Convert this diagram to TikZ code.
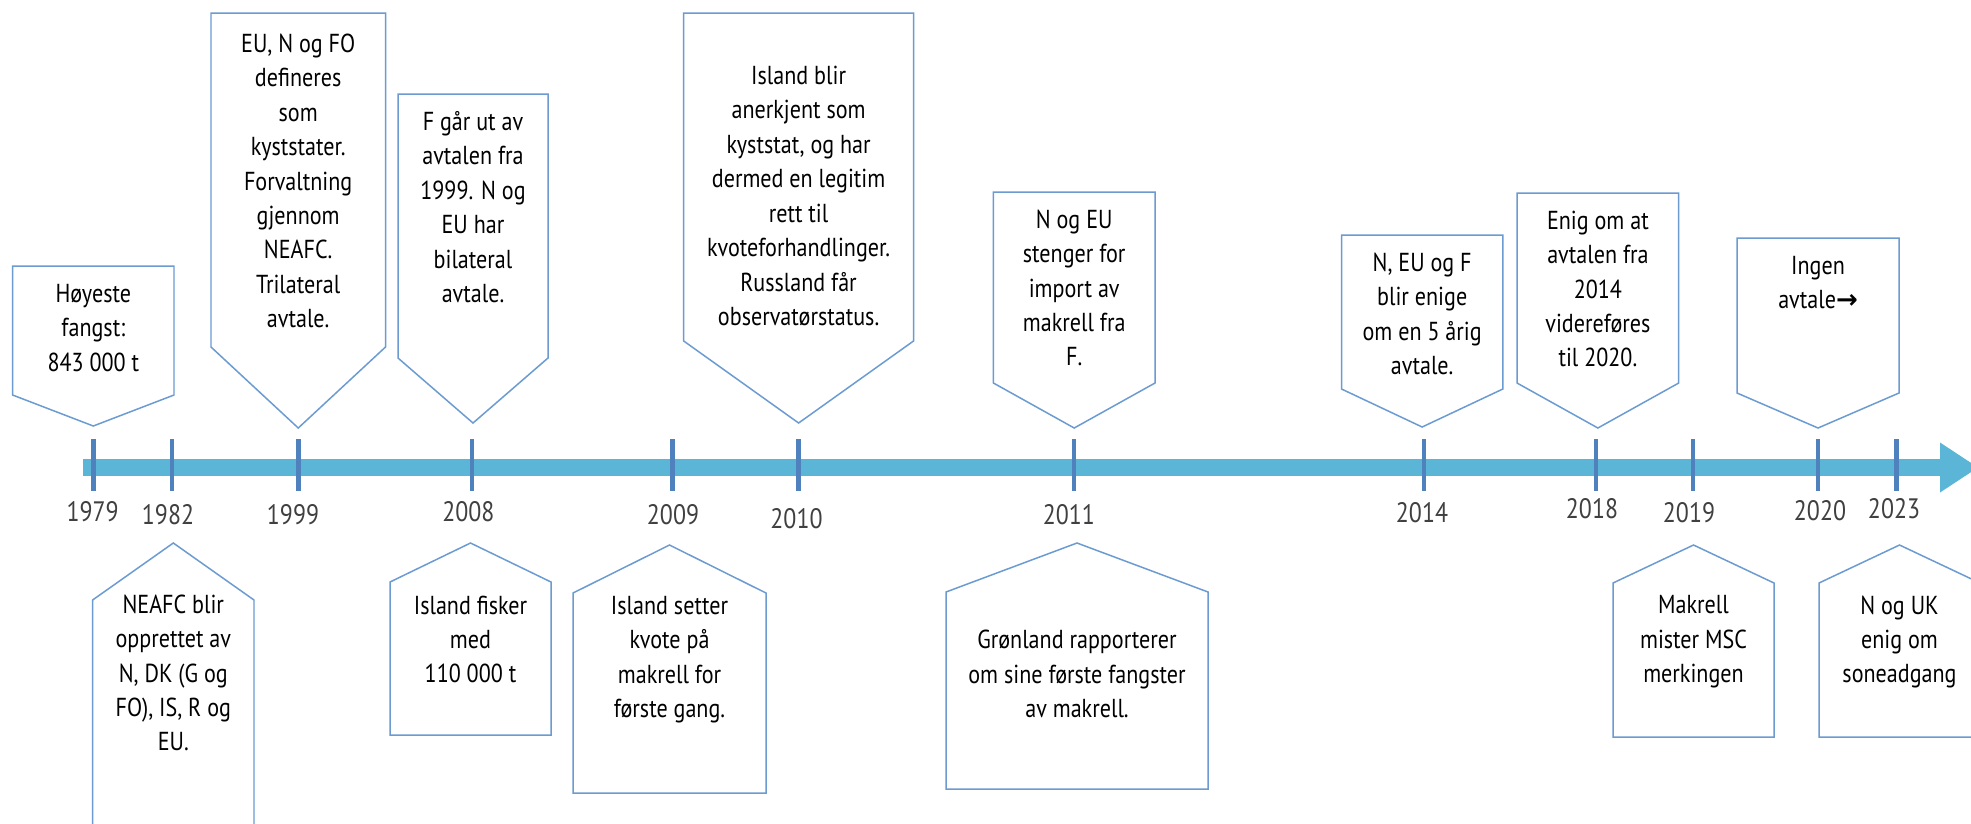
\documentclass[tikz,border=0pt]{standalone}
\usepackage{fontspec}
\setmainfont{PT Sans}[FakeStretch=0.85]
\newfontfamily\symfont{DejaVu Sans}
\definecolor{barblue}{HTML}{5BB5D6}
\definecolor{tickblue}{HTML}{4F81BD}
\definecolor{edgeblue}{HTML}{6C9BD2}
\definecolor{yeargray}{HTML}{404040}
\newcommand\topbox[5]{\draw[callout] (#1,#3) -- (#2,#3) -- (#2,#4) -- ({(#1+#2)/2},#5) -- (#1,#4) -- cycle;}
\newcommand\botbox[5]{\draw[callout] ({(#1+#2)/2},#3) -- (#2,#4) -- (#2,#5) -- (#1,#5) -- (#1,#4) -- cycle;}
\begin{document}
\begin{tikzpicture}[x=0.02cm,y=-0.02cm,
  callout/.style={draw=edgeblue,line width=0.85pt,fill=white,line join=miter},
  txt/.style={align=center,inner sep=0pt,font=\fontsize{14.8pt}{19.6pt}\selectfont},
  yrlab/.style={inner sep=0pt,text=yeargray,font=\fontsize{16pt}{18pt}\selectfont},
  tk/.style={draw=tickblue,line width=2.8pt}]
\useasboundingbox (0,0) rectangle (1971,823);
\clip (0,0) rectangle (1971,823);
\fill[white] (0,0) rectangle (1971,823);

% timeline bar
\fill[barblue] (83,459) rectangle (1941,476);
\fill[barblue] (1940,442.5) -- (1978,467.5) -- (1940,492.5) -- cycle;

% ticks
\foreach \x in {93.4,172,298.4,472,672.3,798.6,1074,1424,1596,1693,1818,1896.5}
  \draw[tk] (\x,439) -- (\x,491);

% year labels
\node[yrlab] (y1979) at (92.6,512) {1979};
\node[yrlab] (y1982) at (168,515) {1982};
\node[yrlab] (y1999) at (293,515) {1999};
\node[yrlab] (y2008) at (468.4,512) {2008};
\node[yrlab] (y2009) at (673,515) {2009};
\node[yrlab] (y2010) at (796.5,519) {2010};
\node[yrlab] (y2011) at (1068.8,515) {2011};
\node[yrlab] (y2014) at (1422,513) {2014};
\node[yrlab] (y2018) at (1592,509) {2018};
\node[yrlab] (y2019) at (1689,513) {2019};
\node[yrlab] (y2020) at (1820,511) {2020};
\node[yrlab] (y2023) at (1894,509) {2023};

% top callouts
\topbox{12.6}{174}{266}{395}{426}
\node[txt] (tA) at (93.3,328) {Høyeste\\fangst:\\843 000 t};
\topbox{211}{385.5}{13}{347}{428}
\node[txt] (tB) at (298.2,181) {EU, N og FO\\defineres\\som\\kyststater.\\Forvaltning\\gjennom\\NEAFC.\\Trilateral\\avtale.};
\topbox{398}{548}{94}{358}{423}
\node[txt] (tC) at (473,207) {F går ut av\\avtalen fra\\1999. N og\\EU har\\bilateral\\avtale.};
\topbox{683.7}{913.5}{13}{341}{423}
\node[txt] (tD) at (798.6,196) {Island blir\\anerkjent som\\kyststat, og har\\dermed en legitim\\rett til\\kvoteforhandlinger.\\Russland får\\observatørstatus.};
\topbox{993.4}{1155}{192}{383}{428}
\node[txt] (tE) at (1074.2,288) {N og EU\\stenger for\\import av\\makrell fra\\F.};
\topbox{1341.5}{1502.8}{235}{389}{427}
\node[txt] (tF) at (1422.2,314) {N, EU og F\\blir enige\\om en 5 årig\\avtale.};
\topbox{1517}{1678.7}{193}{383}{428}
\node[txt] (tG) at (1597.9,289) {Enig om at\\avtalen fra\\2014\\videreføres\\til 2020.};
\topbox{1737}{1899}{238}{393}{428}
\node[txt] (tH) at (1818,282.5) {Ingen\\avtale{\symfont\bfseries →}};

% bottom callouts
\botbox{92.6}{254}{543}{600}{860}
\node[txt] (tI) at (173.3,673) {NEAFC blir\\opprettet av\\N, DK (G og\\FO), IS, R og\\EU.};
\botbox{390}{551}{543}{582}{735}
\node[txt] (tJ) at (470.5,639.5) {Island fisker\\med\\110 000 t};
\botbox{573}{766}{545}{593}{793}
\node[txt] (tK) at (669.5,659.5) {Island setter\\kvote på\\makrell for\\første gang.};
\botbox{946}{1208}{543}{592}{789}
\node[txt] (tL) at (1077,674) {Grønland rapporterer\\om sine første fangster\\av makrell.};
\botbox{1613}{1774}{545}{583}{737}
\node[txt] (tM) at (1693.5,642) {Makrell\\mister MSC\\merkingen};
\botbox{1819}{1980}{545}{583}{737}
\node[txt] (tN) at (1899.5,642) {N og UK\\enig om\\soneadgang};
\end{tikzpicture}
\end{document}
